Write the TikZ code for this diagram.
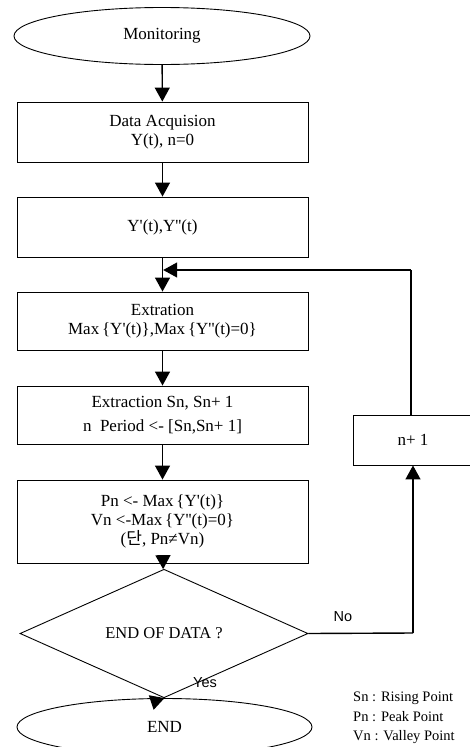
\documentclass[tikz,border=0pt]{standalone}
\usepackage{fontspec}
\setmainfont{Liberation Serif}
\newfontfamily\sansf{Liberation Sans}
\newfontfamily\krfont{Noto Sans CJK KR}
\usetikzlibrary{shapes.geometric,arrows.meta}
\tikzset{
  procbox/.style={draw, line width=0.9pt, minimum width=291pt, inner sep=0pt, align=center, font=\fontsize{17}{19}\selectfont},
  term/.style={draw, ellipse, line width=0.9pt, minimum width=296pt, minimum height=57pt, inner sep=0pt, font=\fontsize{17}{19}\selectfont},
  decide/.style={draw, diamond, line width=0.9pt, minimum width=288pt, minimum height=73pt, inner sep=0pt, font=\fontsize{16.5}{19}\selectfont},
  flow/.style={line width=1.4pt, -{Triangle[width=15pt,length=14pt]}},
  plainline/.style={line width=1.4pt},
  lbl/.style={font=\sansf\fontsize{14.5}{17}\selectfont, inner sep=0pt},
  legend/.style={font=\fontsize{14.5}{20}\selectfont, inner sep=0pt, anchor=west}
}
\begin{document}
\begin{tikzpicture}[x=1pt,y=-1pt]
\useasboundingbox (0,0) rectangle (470,747);
\clip (0,0) rectangle (470,747);
\node[term] (mon) at (162,36) {Monitoring};
\node[procbox, minimum height=60pt] (acq) at (162.5,132) {Data Acquision\\Y(t), n=0};
\node[procbox, minimum height=60pt] (der) at (162.5,227) {Y\textquotesingle(t),Y\textquotesingle\textquotesingle(t)};
\node[procbox, minimum height=58pt] (ext) at (162.5,321) {Extration\\Max\,\{Y\textquotesingle(t)\},Max\,\{Y\textquotesingle\textquotesingle(t)=0\}};
\node[procbox, minimum height=58pt, font=\fontsize{17}{24}\selectfont] (sn) at (162.5,415) {Extraction Sn, Sn+ 1\\n\ \ Period <- [Sn,Sn+ 1]};
\node[procbox, minimum height=83pt] (pv) at (162.5,521.5) {Pn <- Max\,\{Y\textquotesingle(t)\}\\Vn <-Max\,\{Y\textquotesingle\textquotesingle(t)=0\}\\({\krfont 단}, Pn≠Vn)};
\node[decide] (dec) at (164,633.5) {END OF DATA ?};
\node[term, minimum width=295pt] (end) at (164.5,727) {END};
\node[draw, line width=0.9pt, minimum width=120pt, minimum height=50pt, inner sep=0pt, font=\fontsize{17}{19}\selectfont] (inc) at (413,440) {n+ 1};
\coordinate (join) at (162.5,270);
\coordinate (corner1) at (411,270);
\coordinate (corner2) at (413,633);
\draw[flow] (mon) -- (acq);
\draw[flow] (acq) -- (der);
\draw[plainline] (der.south) -- (join);
\draw[flow] (join) -- (ext);
\draw[flow] (ext) -- (sn);
\draw[flow] (sn) -- (pv);
\draw[flow] (pv) -- (dec);
\draw[flow] (dec.south) -- (end.north);
\draw[plainline] (dec.east) -- (corner2);
\draw[flow] (corner2) -- (corner2 |- inc.south);
\draw[plainline] (corner1 |- inc.north) -- (corner1);
\draw[flow] (corner1) -- ([xshift=0.7pt]join);
\node[lbl] (no) at (343,617) {No};
\node[lbl] (yes) at (205,683) {Yes};
\node[legend] (l1) at (353,698) {Sn : Rising Point};
\node[legend] (l2) at (353,717) {Pn : Peak Point};
\node[legend] (l3) at (353,737) {Vn : Valley Point};
\end{tikzpicture}
\end{document}
